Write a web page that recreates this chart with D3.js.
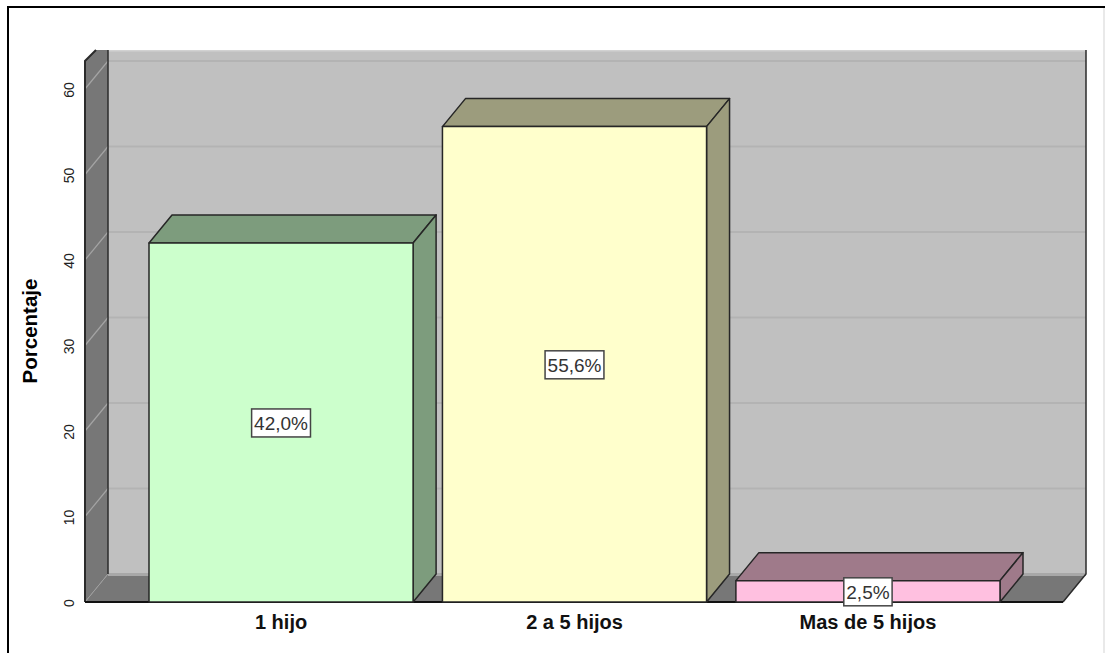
<!DOCTYPE html>
<html><head><meta charset="utf-8">
<script src="https://cdnjs.cloudflare.com/ajax/libs/d3/7.8.5/d3.min.js"></script>
<style>html,body{margin:0;padding:0;background:#fff;overflow:hidden}svg{display:block}text{font-family:"Liberation Sans",Arial,sans-serif}</style>
</head><body><svg id="c" width="1105" height="653"></svg>
<script>
const categories = ["1 hijo", "2 a 5 hijos", "Mas de 5 hijos"];
const values = [42.0, 55.6, 2.5];
const valueLabels = ["42,0%", "55,6%", "2,5%"];
const yTicks = [0, 10, 20, 30, 40, 50, 60];
const frontColors = ["#ccffcc", "#ffffcc", "#ffc0e0"];
const sideColors = ["#7d9c7d", "#9c9c7d", "#9f7a8a"];
const yTitle = "Porcentaje";

const svg = d3.select("#c");
const dx = 23, dy = -28;
const left = 85, right = 1063, base = 602, topClip = 50;
const y = d3.scaleLinear().domain([0, 60]).range([base, 89]);
const x = d3.scaleBand().domain(categories).range([149, 1000]).paddingInner(0.1).paddingOuter(0);
const poly = pts => pts.map(p => p.join(",")).join(" ");
const dark = "#2b2b2b";

// outer frame
svg.append("rect").attr("x",1103).attr("y",8).attr("width",2).attr("height",645).attr("fill","#e9e9e9");
svg.append("line").attr("x1",7).attr("x2",1105).attr("y1",7).attr("y2",7).attr("stroke","#000").attr("stroke-width",2);
svg.append("line").attr("x1",8).attr("x2",8).attr("y1",6).attr("y2",653).attr("stroke","#000").attr("stroke-width",2);

// walls
const defs = svg.append("defs");
defs.append("clipPath").attr("id","plot").append("rect").attr("x",left-2).attr("y",topClip).attr("width",right-left+dx+5).attr("height",base-topClip+3);
const g = svg.append("g").attr("clip-path","url(#plot)");
g.append("rect").attr("x",left+dx).attr("y",topClip).attr("width",right-left).attr("height",base+dy-topClip).attr("fill","#c0c0c0");
g.append("polygon").attr("points",poly([[left,base],[left+dx,base+dy],[left+dx,topClip],[left+11,topClip],[left,topClip+11]])).attr("fill","#777777");
g.append("polygon").attr("points",poly([[left,base],[left+dx,base+dy],[right+dx,base+dy],[right,base]])).attr("fill","#777777");
g.append("rect").attr("x",left+dx).attr("y",base+dy-1).attr("width",right-left).attr("height",3).attr("fill","#a8a8a8");
g.append("rect").attr("x",left+dx).attr("y",topClip).attr("width",right-left).attr("height",1.5).attr("fill","#d2d2d2");

// grid
yTicks.filter(t => t > 0).forEach(t => {
  g.append("line").attr("x1",left).attr("y1",y(t)).attr("x2",left+dx).attr("y2",y(t)+dy)
    .attr("stroke","#a4a4a4").attr("stroke-width",1.2);
  g.append("line").attr("x1",left+dx).attr("y1",y(t)+dy).attr("x2",right+dx).attr("y2",y(t)+dy)
    .attr("stroke","#b3b3b3").attr("stroke-width",2);
});
g.append("line").attr("x1",left).attr("y1",base).attr("x2",left+dx).attr("y2",base+dy).attr("stroke","#a0a0a0").attr("stroke-width",1);

// wall edges
const edge = (pts,w,c) => svg.append("polyline").attr("points",poly(pts)).attr("fill","none").attr("stroke",c||dark).attr("stroke-width",w||1.5);
edge([[left+11,topClip],[left,topClip+11],[left,base]],2);
edge([[left+dx,topClip],[left+dx,base+dy]],1.5);
edge([[right+dx,topClip],[right+dx,base+dy],[right,base]],1.5);
edge([[left,base],[right,base]],2,"#111");

// bars
categories.forEach((c,i) => {
  const x0 = x(c), x1 = x0 + x.bandwidth(), yt = y(values[i]);
  const bar = svg.append("g").attr("stroke","#262626").attr("stroke-width",1.5).attr("stroke-linejoin","round");
  bar.append("polygon").attr("points",poly([[x0,yt],[x0+dx,yt+dy],[x1+dx,yt+dy],[x1,yt]])).attr("fill",sideColors[i]);
  bar.append("polygon").attr("points",poly([[x1,yt],[x1+dx,yt+dy],[x1+dx,base+dy],[x1,base]])).attr("fill",sideColors[i]);
  bar.append("rect").attr("x",x0).attr("y",yt).attr("width",x.bandwidth()).attr("height",base-yt).attr("fill",frontColors[i]);
});

// y ticks
yTicks.forEach(t => {
  svg.append("text").attr("transform",`translate(74,${y(t)+1}) rotate(-90)`).attr("text-anchor","middle")
    .attr("font-size",14).attr("fill","#222").text(t);
});
svg.append("text").attr("transform",`translate(37,${331}) rotate(-90)`).attr("text-anchor","middle")
  .attr("font-size",20.5).attr("font-weight","bold").attr("fill","#000").text(yTitle);

// category labels
categories.forEach(c => {
  svg.append("text").attr("x",x(c)+x.bandwidth()/2).attr("y",629).attr("text-anchor","middle")
    .attr("font-size",20).attr("font-weight","bold").attr("fill","#111").text(c);
});

// value labels
categories.forEach((c,i) => {
  const cx = x(c)+x.bandwidth()/2, cy = (y(values[i])+base)/2 + 0.5;
  const lab = svg.append("g");
  const t = lab.append("text").attr("x",cx).attr("y",cy+7).attr("text-anchor","middle").attr("font-size",19).attr("fill","#333").text(valueLabels[i]);
  const w = t.node().getComputedTextLength();
  lab.insert("rect","text").attr("x",cx-w/2-2.5).attr("y",cy-14).attr("width",w+5).attr("height",28).attr("fill","#fff").attr("stroke","#444").attr("stroke-width",1.5);
});
</script></body></html>
